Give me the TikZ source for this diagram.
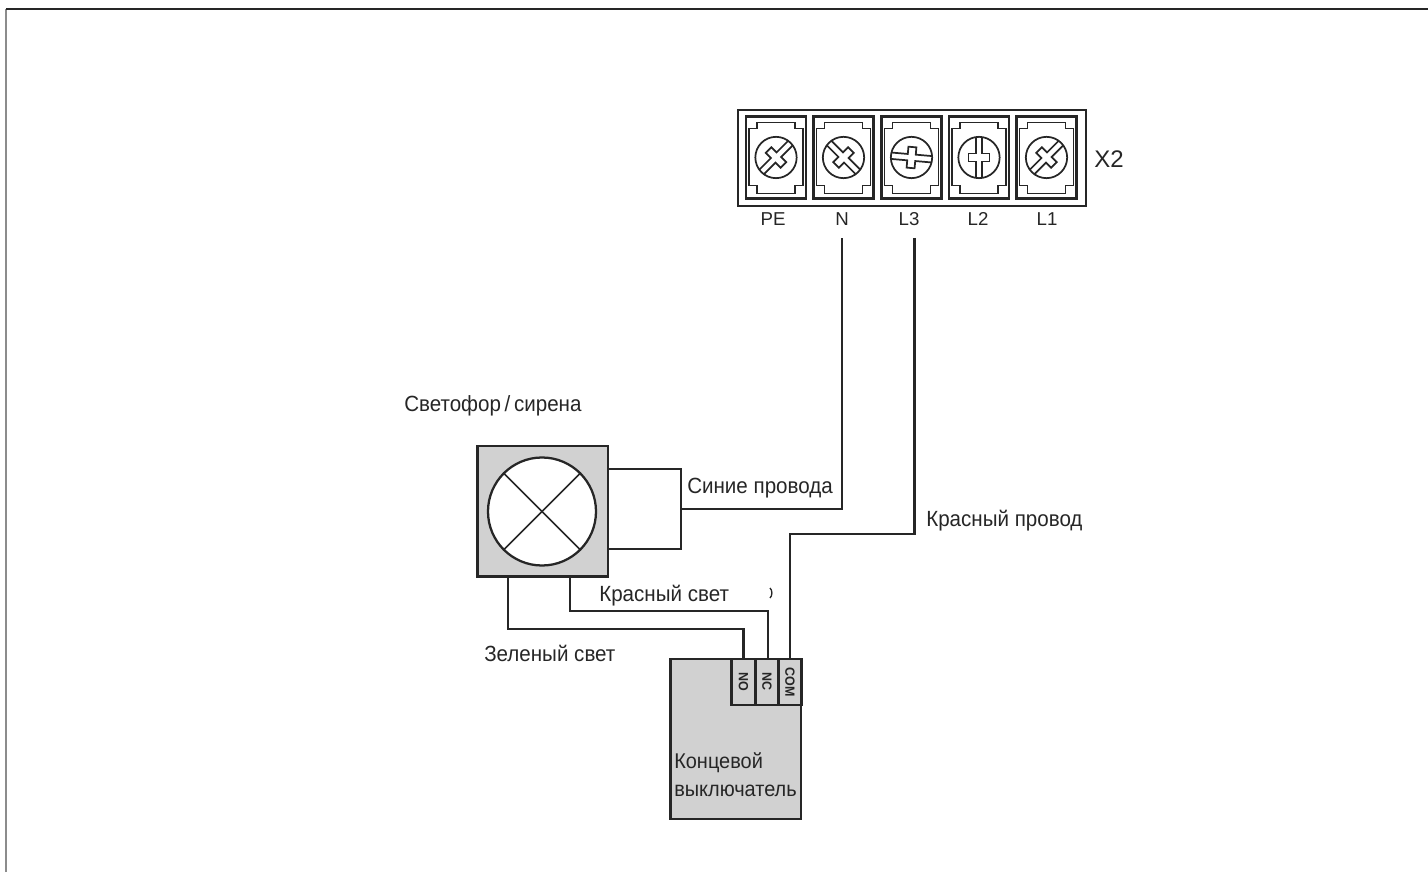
\documentclass[tikz,border=0pt]{standalone}
\usepackage{fontspec}
\setmainfont{Liberation Sans}
\newfontfamily\narrowfont[FakeStretch=0.935]{Liberation Sans}
\usetikzlibrary{positioning}

\newcommand{\terminal}[3]{%
  \begin{scope}[shift={(#1,714.5)}]
    \draw [wire] (-30,-41) rectangle (30,41);
    \draw [thinline] (-27,29) -- (-19,29) -- (-19,35) -- (19,35) -- (19,29) -- (27,29)
      -- (27,-28) -- (19,-28) -- (19,-36) -- (-19,-36) -- (-19,-28) -- (-27,-28) -- cycle;
    \node [screw] (#2) {};
    \begin{scope}[rotate=#3]
      \draw [thinline] (-3.2,20.2) -- (-3.2,4) -- (-10.5,4) -- (-10.5,-4) -- (-3.2,-4) -- (-3.2,-20.2);
      \draw [thinline] (3.2,20.2) -- (3.2,4) -- (10.5,4) -- (10.5,-4) -- (3.2,-4) -- (3.2,-20.2);
    \end{scope}
  \end{scope}}

\begin{document}
\begin{tikzpicture}
    [ x = .75pt, y = .75pt
    , wire/.style =
      { draw, line width = 1.9pt, black!85 }
    , thinline/.style =
      { draw, line width = 1.3pt, black!85 }
    , screw/.style =
      { circle, draw, line width = 1.3pt, black!85, minimum size = 31pt, inner sep = 0pt }
    , graybox/.style =
      { draw, line width = 2pt, black!85, fill = black!18, inner sep = 0pt }
    , pinbox/.style =
      { graybox, minimum width = 17.6pt, minimum height = 34.5pt }
    , textlabel/.style =
      { text = black!85, font = \narrowfont\fontsize{16.5}{21}\selectfont, inner sep = 0pt, anchor = base west }
    , switchlabel/.style =
      { textlabel, font = \narrowfont\fontsize{16}{21}\selectfont }
    , termlabel/.style =
      { text = black!85, font = \fontsize{14}{16}\selectfont, inner sep = 0pt, anchor = base }
    , pinlabel/.style =
      { text = black!85, font = \narrowfont\bfseries\fontsize{10}{12}\selectfont, inner sep = 0pt, rotate = -90 }
    ]
    \useasboundingbox (0,0) rectangle (1428,872);
    % frame
    \draw [line width = 1.5pt, black!45] (6,0) -- (6,863);
    \draw [line width = 1.2pt, black!85] (6,863) -- (1428,863);

    % terminal block X2
    \draw [wire] (738,666) rectangle (1086,762);
    \terminal{776}{pe}{-45}
    \terminal{843.5}{n}{45}
    \terminal{911.5}{lthree}{85}
    \terminal{979}{ltwo}{0}
    \terminal{1046.5}{lone}{-45}
    \node [termlabel, font = \fontsize{18}{20}\selectfont] (x2) at (1109,704) {X2};
    \node [termlabel] (pelabel) at (773,646) {PE};
    \node [termlabel] (nlabel) at (842,646) {N};
    \node [termlabel] (lthreelabel) at (909,646) {L3};
    \node [termlabel] (ltwolabel) at (978,646) {L2};
    \node [termlabel] (lonelabel) at (1047,646) {L1};

    % lamp
    \node [graybox, minimum size = 98pt] (lamp) at (542.5,360.5) {};
    \node [circle, draw, line width = 1.7pt, black!85, fill = white, minimum size = 81pt, inner sep = 0pt] (bulb) at (542,360.5) {};
    \draw [thinline] (bulb.45) -- (bulb.225);
    \draw [thinline] (bulb.135) -- (bulb.315);

    % switch
    \node [graybox, minimum width = 98pt, minimum height = 120pt] (switch) at (735.5,133) {};
    \node [pinbox] (no) at (743.5,190) {};
    \node [pinbox] (nc) at (767,190) {};
    \node [pinbox] (com) at (790,190) {};
    \node [pinlabel] (nolabel) at (no) {NO};
    \node [pinlabel] (nclabel) at (nc) {NC};
    \node [pinlabel] (comlabel) at (com) {COM};

    % wires
    \coordinate (loop) at (681,363);
    \coordinate (nwire) at (842,634);
    \coordinate (lthreewire) at (914.5,634);
    \draw [wire] (lamp.east |- 0,403) -- (681,403) -- (681,323) -- (lamp.east |- 0,323);
    \draw [wire] (loop) -- (842,363) -- (nwire);
    \draw [wire] (lthreewire) -- (914.5,338) -- (790,338) -- (com.north);
    \draw [wire] (570,0 |- lamp.south) -- (570,261) -- (768,261) -- (nc.north -| 768,0);
    \draw [wire] (508,0 |- lamp.south) -- (508,243) -- (743.5,243) -- (no.north);
    \draw [line width = 1pt, black!85] (770,284) .. controls (772.5,282) and (772.5,276) .. (770,274);

    % texts
    \node [textlabel] (lamptext) at (404,460) {Светофор\,/\,сирена};
    \node [textlabel] (bluetext) at (687,378) {Синие провода};
    \node [textlabel] (redtext) at (926,345) {Красный провод};
    \node [textlabel] (redlighttext) at (599,271) {Красный свет};
    \node [textlabel] (greentext) at (484,211) {Зеленый свет};
    \node [switchlabel] (switchtextone) at (674,104) {Концевой};
    \node [switchlabel] (switchtexttwo) at (674,76) {выключатель};
\end{tikzpicture}
\end{document}
